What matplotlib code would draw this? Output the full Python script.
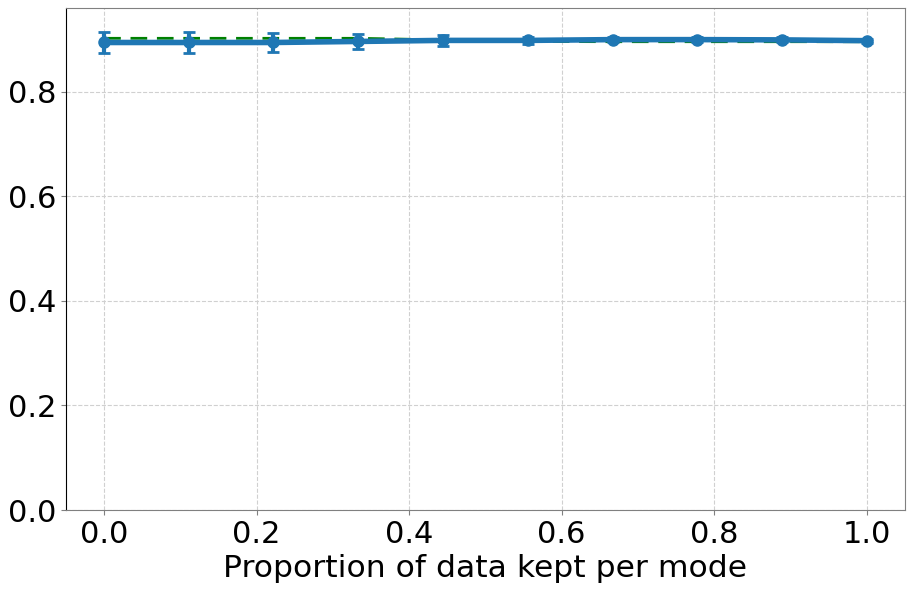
import matplotlib
matplotlib.use("Agg")
import matplotlib.pyplot as plt
import numpy as np

proportions = [0.0, 0.111, 0.222, 0.333, 0.444, 0.556, 0.667, 0.778, 0.889, 1.0]
mean_acc = [0.894, 0.894, 0.894, 0.896, 0.898, 0.898, 0.8995, 0.8995, 0.899, 0.8975]
std_acc = [0.021, 0.0195, 0.019, 0.015, 0.010, 0.006, 0.005, 0.005, 0.005, 0.004]
reference_acc = [0.902, 0.902, 0.902, 0.902, 0.899, 0.896, 0.8955, 0.8955, 0.8955, 0.8955]

fig, ax = plt.subplots(figsize=(9.13, 5.91), dpi=100)
ax.plot(proportions, reference_acc, color="green", linestyle="--", linewidth=2, dashes=(6, 3.5), zorder=2)
ax.errorbar(proportions, mean_acc, yerr=std_acc, color="#1f77b4", linewidth=4,
            marker="o", markersize=8, capsize=4, capthick=2, elinewidth=3, zorder=3)
ax.set_xlim(-0.05, 1.05)
ax.set_ylim(0, 0.96)
ax.grid(True, linestyle="--", color="#d0d0d0", linewidth=0.8)
ax.set_axisbelow(True)
ax.set_xlabel("Proportion of data kept per mode", fontsize=22.6)
ax.tick_params(labelsize=22, color="#808080")
for s in ["top", "right", "bottom"]:
    ax.spines[s].set_color("#808080")
ax.spines["left"].set_color("black")
fig.subplots_adjust(left=0.0723, right=0.991, top=0.9865, bottom=0.137)
fig.savefig("out.png")
